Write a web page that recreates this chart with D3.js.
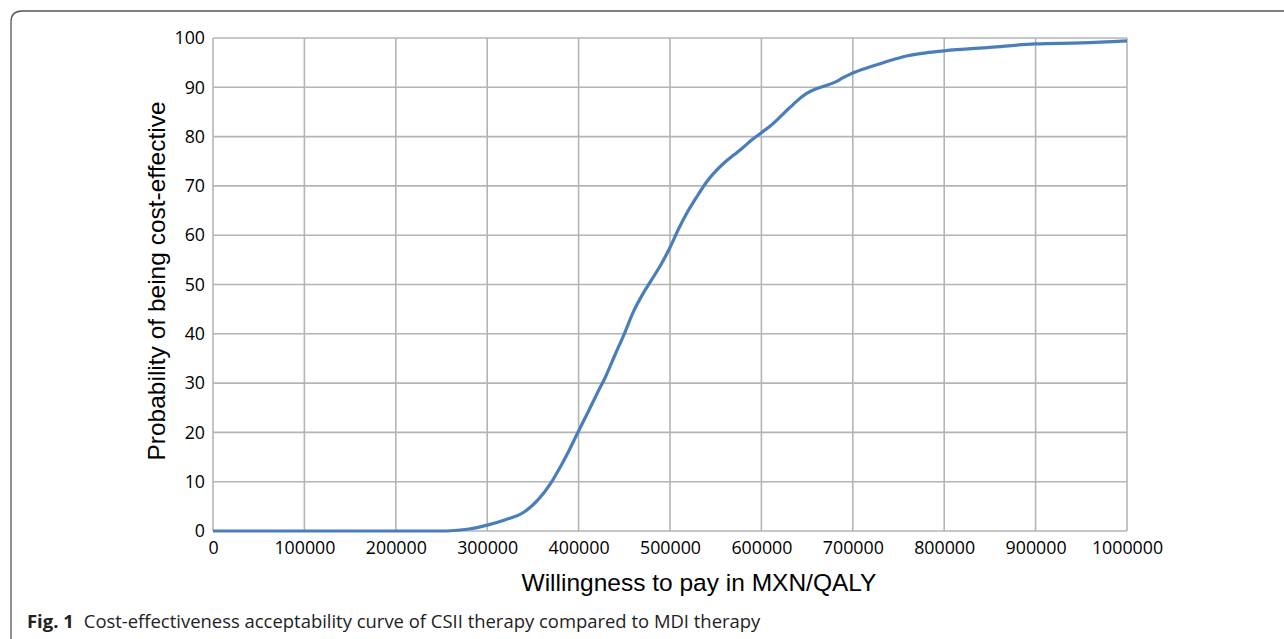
<!DOCTYPE html>
<html>
<head>
<meta charset="utf-8">
<script src="https://cdn.jsdelivr.net/npm/d3@7"></script>
<style>
  body { margin: 0; background: #fff; }
  svg { display: block; }
</style>
</head>
<body>
<svg id="chart" width="1284" height="639"></svg>
<script>
// willingness to pay (MXN/QALY) and probability (%)
var wtp = [0, 50000, 100000, 150000, 200000, 250000, 260000, 280000, 300000, 320000,
	340000, 355000, 370000, 380000, 390000, 400000, 410000, 420000, 430000,
	440000, 450000, 460000, 470000, 480000, 490000, 500000, 510000, 520000, 530000,
	540000, 550000, 560000, 570000, 580000, 590000, 600000, 610000, 620000, 630000,
	640000, 650000, 660000, 670000, 680000, 690000, 700000, 720000, 740000, 760000,
	780000, 800000, 850000, 900000, 950000, 1000000];
var prob = [0, 0, 0, 0, 0, 0, 0.05, 0.4, 1.2, 2.3,
	3.8, 6.2, 9.8, 13, 16.5, 20.3, 24, 27.8, 31.5,
	35.8, 40, 44.5, 48, 51, 54, 57.5, 61.5, 65, 68,
	70.8, 73, 74.8, 76.3, 77.8, 79.4, 80.8, 82.2, 83.9, 85.7,
	87.4, 88.8, 89.7, 90.3, 91, 92, 92.9, 94.2, 95.4, 96.4,
	97, 97.4, 98.1, 98.8, 99.0, 99.4];

var xTicks = [0, 100000, 200000, 300000, 400000, 500000, 600000, 700000, 800000, 900000, 1000000];
var yTicks = [0, 10, 20, 30, 40, 50, 60, 70, 80, 90, 100];

var xTitle = "Willingness to pay in MXN/QALY";
var yTitle = "Probability of being cost-effective";
var figLabel = "Fig. 1";
var figCaption = "Cost-effectiveness acceptability curve of CSII therapy compared to MDI therapy";

var svg = d3.select("#chart"),
	margin = {top: 38, left: 213},
	width = 914,
	height = 493;

// outer frame (only top and left sides show)
svg.append("path")
	.attr("d", "M11,660 L11,22 Q11,11 22,11 L1300,11")
	.attr("fill", "none")
	.attr("stroke", "#555")
	.attr("stroke-width", 1.3);

var x = d3.scaleLinear().domain([0, 1000000]).range([0, width]),
	y = d3.scaleLinear().domain([0, 100]).range([height, 0]);

var g = svg.append("g")
	.attr("transform", "translate(" + margin.left + "," + margin.top + ")");

// grid
g.selectAll(".vgrid")
	.data(xTicks)
	.enter().append("line")
	.attr("class", "vgrid")
	.attr("x1", function(d) { return x(d); })
	.attr("x2", function(d) { return x(d); })
	.attr("y1", 0)
	.attr("y2", height)
	.attr("stroke", "#b4b4b4")
	.attr("stroke-width", 1.6);

g.selectAll(".hgrid")
	.data(yTicks)
	.enter().append("line")
	.attr("class", "hgrid")
	.attr("x1", 0)
	.attr("x2", width)
	.attr("y1", function(d) { return y(d); })
	.attr("y2", function(d) { return y(d); })
	.attr("stroke", "#b4b4b4")
	.attr("stroke-width", 1.6);

// axes, labels only
var xAxis = g.append("g")
	.attr("transform", "translate(0," + height + ")")
	.call(d3.axisBottom(x).tickValues(xTicks).tickSize(0).tickPadding(10).tickFormat(d3.format("d")));
xAxis.select(".domain").remove();
xAxis.selectAll("text")
	.attr("font-family", "Open Sans")
	.attr("font-size", "17.8px")
	.attr("fill", "#000");

var yAxis = g.append("g")
	.call(d3.axisLeft(y).tickValues(yTicks).tickSize(0).tickPadding(8).tickFormat(d3.format("d")));
yAxis.select(".domain").remove();
yAxis.selectAll("text")
	.attr("font-family", "Open Sans")
	.attr("font-size", "17.8px")
	.attr("fill", "#000");

// curve
var line = d3.line()
	.x(function(d, i) { return x(wtp[i]); })
	.y(function(d) { return y(d); })
	.curve(d3.curveMonotoneX);

g.append("path")
	.datum(prob)
	.attr("fill", "none")
	.attr("stroke", "#4a7ebb")
	.attr("stroke-width", 3.2)
	.attr("stroke-linejoin", "round")
	.attr("d", line);

// axis titles
svg.append("text")
	.attr("x", 699)
	.attr("y", 591)
	.attr("text-anchor", "middle")
	.attr("font-family", "Liberation Sans")
	.attr("font-size", "24.5px")
	.attr("fill", "#000")
	.text(xTitle);

svg.append("text")
	.attr("transform", "translate(165,281) rotate(-90)")
	.attr("text-anchor", "middle")
	.attr("font-family", "Liberation Sans")
	.attr("font-size", "24.5px")
	.attr("fill", "#000")
	.text(yTitle);

// caption
var cap = svg.append("text")
	.attr("x", 27)
	.attr("y", 628)
	.attr("font-family", "Open Sans")
	.attr("font-size", "18.45px")
	.attr("fill", "#222");
cap.append("tspan").attr("font-weight", "bold").text(figLabel);
cap.append("tspan").attr("dx", 10).text(figCaption);
</script>
</body>
</html>
